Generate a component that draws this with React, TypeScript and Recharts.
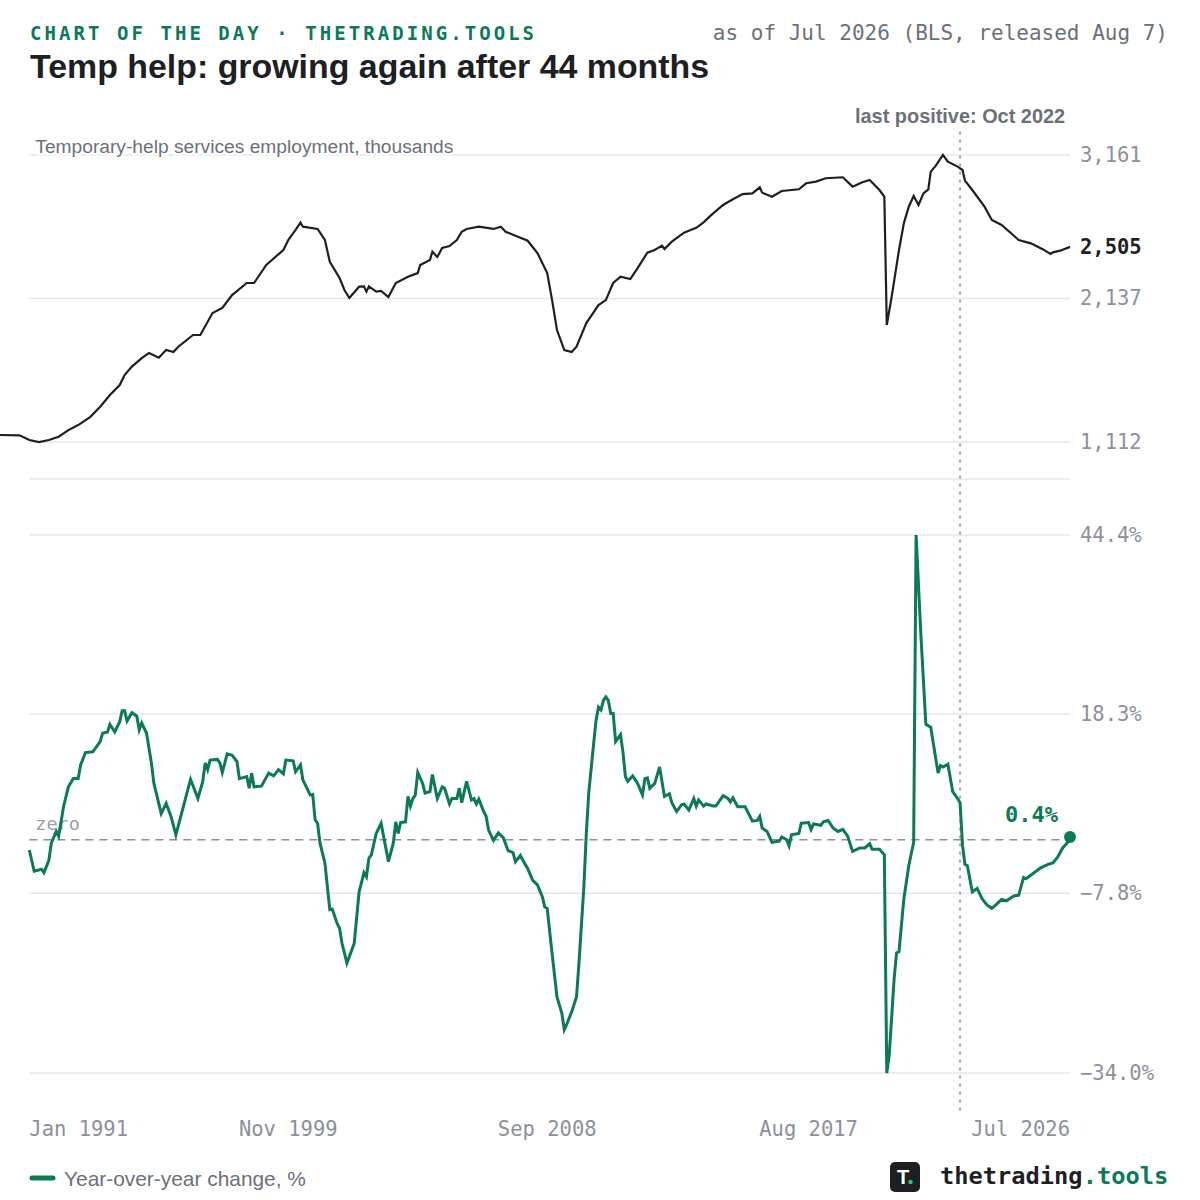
import React from 'react'
import { LineChart, Line, XAxis, YAxis, ReferenceLine, ReferenceDot } from 'recharts'

// Temporary-help services employment (thousands)
const levelMonths = [
  '1990-01', '1990-09', '1991-01', '1991-05', '1991-09', '1992-01', '1992-05', '1992-09', '1993-02', '1993-06', '1993-10',
  '1994-02', '1994-04', '1994-07', '1994-11', '1995-02', '1995-06', '1995-09', '1995-12', '1996-02', '1996-08', '1996-11',
  '1997-04', '1997-08', '1997-12', '1998-06', '1998-09', '1999-02', '1999-09', '1999-11', '2000-02', '2000-04', '2000-05',
  '2000-11', '2001-02', '2001-04', '2001-08', '2001-10', '2001-12', '2002-04', '2002-06', '2002-07', '2002-08', '2002-11',
  '2003-01', '2003-04', '2003-07', '2003-12', '2004-04', '2004-05', '2004-09', '2004-10', '2004-12', '2005-02', '2005-05',
  '2005-08', '2005-10', '2005-12', '2006-05', '2006-11', '2007-02', '2007-04', '2007-09', '2008-01', '2008-05', '2008-09',
  '2008-11', '2009-01', '2009-04', '2009-07', '2009-09', '2010-01', '2010-06', '2010-09', '2010-12', '2011-03', '2011-07',
  '2011-10', '2012-02', '2012-05', '2012-08', '2012-09', '2012-12', '2013-05', '2013-10', '2014-01', '2014-04', '2014-09',
  '2015-01', '2015-05', '2015-09', '2015-12', '2016-01', '2016-05', '2016-09', '2017-04', '2017-07', '2017-11', '2018-03',
  '2018-10', '2019-02', '2019-06', '2019-09', '2020-01', '2020-03', '2020-04', '2020-06', '2020-09', '2020-11', '2021-01',
  '2021-03', '2021-05', '2021-07', '2021-09', '2021-10', '2021-12', '2022-03', '2022-05', '2022-09', '2022-11', '2022-12',
  '2023-03', '2023-08', '2023-11', '2024-03', '2024-10', '2025-03', '2025-08', '2025-11', '2025-12', '2026-03', '2026-07',
]
const levelValues = [
  1162, 1160, 1126, 1112, 1126, 1150, 1197, 1233, 1292, 1364, 1447,
  1519, 1590, 1650, 1711, 1747, 1714, 1769, 1754, 1792, 1876, 1876,
  2033, 2069, 2161, 2247, 2247, 2376, 2483, 2554, 2626, 2678, 2649,
  2633, 2554, 2399, 2283, 2197, 2140, 2221, 2223, 2185, 2223, 2185,
  2190, 2147, 2247, 2292, 2318, 2376, 2411, 2471, 2433, 2497, 2511,
  2554, 2613, 2633, 2649, 2633, 2649, 2613, 2578, 2549, 2461, 2318,
  2125, 1911, 1768, 1754, 1792, 1961, 2090, 2125, 2247, 2292, 2275,
  2354, 2464, 2483, 2514, 2490, 2542, 2606, 2641, 2680, 2730, 2804,
  2845, 2882, 2887, 2930, 2892, 2863, 2904, 2916, 2959, 2971, 2995,
  3002, 2935, 2966, 2982, 2911, 2863, 1947, 2149, 2483, 2675, 2792,
  2868, 2804, 2887, 2916, 3042, 3083, 3161, 3113, 3078, 3054, 2978,
  2911, 2792, 2697, 2661, 2554, 2530, 2487, 2454, 2466, 2478, 2505,
]

// Year-over-year change, %
const yoyMonths = [
  '1991-01', '1991-03', '1991-06', '1991-07', '1991-09', '1991-10', '1991-12', '1992-01', '1992-03', '1992-05',
  '1992-07', '1992-09', '1992-10', '1992-12', '1993-03', '1993-06', '1993-07', '1993-09', '1993-10', '1993-12',
  '1994-02', '1994-03', '1994-04', '1994-05', '1994-07', '1994-09', '1994-10', '1994-11', '1995-01', '1995-03',
  '1995-04', '1995-07', '1995-09', '1995-11', '1996-01', '1996-03', '1996-07', '1996-10', '1996-12', '1997-01',
  '1997-02', '1997-03', '1997-06', '1997-07', '1997-08', '1997-10', '1997-12', '1998-02', '1998-03', '1998-06',
  '1998-07', '1998-08', '1998-09', '1998-12', '1999-03', '1999-05', '1999-07', '1999-09', '1999-10', '2000-01',
  '2000-02', '2000-04', '2000-05', '2000-08', '2000-09', '2000-10', '2000-11', '2000-12', '2001-02', '2001-04',
  '2001-05', '2001-07', '2001-08', '2001-09', '2001-11', '2002-02', '2002-04', '2002-06', '2002-07', '2002-08',
  '2002-09', '2002-11', '2003-01', '2003-04', '2003-06', '2003-07', '2003-08', '2003-09', '2003-11', '2003-12',
  '2004-01', '2004-02', '2004-03', '2004-04', '2004-06', '2004-07', '2004-09', '2004-10', '2004-12', '2005-02',
  '2005-03', '2005-05', '2005-06', '2005-08', '2005-09', '2005-10', '2005-12', '2006-02', '2006-03', '2006-04',
  '2006-05', '2006-07', '2006-08', '2006-09', '2006-11', '2007-01', '2007-03', '2007-05', '2007-07', '2007-08',
  '2007-10', '2007-12', '2008-01', '2008-03', '2008-05', '2008-07', '2008-08', '2008-09', '2008-11', '2009-01',
  '2009-03', '2009-04', '2009-05', '2009-07', '2009-09', '2009-10', '2009-12', '2010-01', '2010-02', '2010-04',
  '2010-05', '2010-06', '2010-07', '2010-08', '2010-09', '2010-10', '2010-11', '2010-12', '2011-01', '2011-03',
  '2011-04', '2011-05', '2011-06', '2011-08', '2011-10', '2011-12', '2012-01', '2012-02', '2012-03', '2012-05',
  '2012-07', '2012-09', '2012-11', '2012-12', '2013-02', '2013-04', '2013-05', '2013-07', '2013-09', '2013-10',
  '2013-11', '2014-01', '2014-02', '2014-05', '2014-06', '2014-09', '2014-11', '2014-12', '2015-01', '2015-03',
  '2015-06', '2015-07', '2015-09', '2015-11', '2015-12', '2016-01', '2016-03', '2016-05', '2016-08', '2016-09',
  '2016-11', '2016-12', '2017-01', '2017-04', '2017-05', '2017-08', '2017-09', '2017-10', '2018-01', '2018-02',
  '2018-04', '2018-06', '2018-08', '2018-10', '2018-12', '2019-02', '2019-05', '2019-07', '2019-09', '2019-10',
  '2020-01', '2020-03', '2020-04', '2020-05', '2020-07', '2020-08', '2020-09', '2020-11', '2021-01', '2021-03',
  '2021-04', '2021-06', '2021-08', '2021-10', '2022-01', '2022-02', '2022-03', '2022-05', '2022-07', '2022-09',
  '2022-10', '2022-11', '2022-12', '2023-01', '2023-03', '2023-05', '2023-07', '2023-09', '2023-11', '2024-01',
  '2024-03', '2024-05', '2024-08', '2024-10', '2024-12', '2025-01', '2025-04', '2025-07', '2025-10', '2025-12',
  '2026-02', '2026-04', '2026-06', '2026-07',
]
const yoyValues = [
  -1.5, -4.6, -4.3, -4.8, -3.0, -0.5, 1.2, 0.5, 4.8, 7.7,
  8.9, 8.9, 10.9, 12.7, 12.8, 14.3, 15.5, 15.7, 16.8, 15.7,
  17.2, 18.8, 18.8, 17.3, 18.5, 18.0, 16.0, 17.0, 15.5, 11.1,
  8.2, 3.8, 5.3, 3.4, 0.7, 3.4, 8.8, 6.0, 8.5, 11.2,
  10.2, 11.6, 11.7, 11.2, 9.8, 12.5, 12.3, 11.4, 8.9, 9.2,
  7.5, 9.7, 7.7, 7.8, 9.7, 9.3, 10.2, 9.6, 11.6, 11.5,
  9.9, 10.9, 8.7, 6.5, 6.6, 2.9, 2.4, -0.5, -3.4, -10.2,
  -10.1, -12.2, -12.9, -15.1, -18.0, -15.1, -7.6, -4.8, -5.4, -2.7,
  -2.2, 0.9, 2.4, -3.2, -0.5, 2.6, 0.9, 2.5, 2.6, 6.3,
  4.9, 6.0, 6.5, 9.8, 8.2, 6.8, 7.0, 9.5, 6.0, 7.7,
  7.5, 5.2, 6.0, 6.0, 7.5, 5.4, 8.5, 5.8, 6.0, 5.2,
  5.9, 4.1, 3.4, 1.4, -0.1, 1.0, 0.3, -1.6, -1.9, -3.2,
  -2.3, -3.6, -4.2, -5.9, -6.6, -8.3, -9.8, -10.0, -16.6, -22.9,
  -25.3, -27.7, -26.9, -25.1, -22.9, -18.0, -6.9, 0.9, 6.8, 14.0,
  17.4, 19.3, 18.9, 20.3, 20.8, 20.3, 18.4, 18.4, 14.3, 15.3,
  12.8, 9.2, 8.5, 9.3, 8.2, 6.5, 8.9, 9.0, 7.5, 8.2,
  10.6, 6.3, 6.7, 5.4, 4.1, 5.1, 5.2, 4.3, 6.0, 4.9,
  5.8, 4.9, 5.2, 4.9, 4.9, 6.4, 6.0, 5.5, 6.1, 4.8,
  4.8, 4.1, 2.7, 2.8, 3.4, 1.7, 1.2, -0.4, -0.2, 0.4,
  0.0, -0.9, 0.7, 0.9, 2.4, 2.5, 1.5, 2.3, 2.1, 2.6,
  2.8, 1.7, 1.2, 1.5, 0.5, -1.7, -1.2, -1.2, -0.6, -1.4,
  -1.4, -2.2, -34.0, -31.4, -20.3, -16.5, -16.3, -8.6, -3.8, -0.4,
  44.4, 29.6, 16.8, 16.4, 9.7, 10.8, 10.6, 11.0, 7.0, 6.0,
  5.4, -0.8, -3.6, -3.8, -7.6, -7.1, -8.6, -9.5, -10.0, -9.4,
  -8.7, -8.9, -8.2, -8.1, -5.5, -5.7, -4.9, -4.1, -3.6, -3.4,
  -2.5, -1.2, -0.4, 0.4,
]

const levelTicks = [1112, 2137, 2505, 3161]
const levelGrid = [1112, 2137, 3161]
const yoyTicks = [-34.0, -7.8, 18.3, 44.4]
const xTickMonths = ['1991-01', '1999-11', '2008-09', '2017-08', '2026-07']
const xTickLabels = ['Jan 1991', 'Nov 1999', 'Sep 2008', 'Aug 2017', 'Jul 2026']
const lastPositiveMonth = '2022-10'

const MONO = '"DejaVu Sans Mono", monospace'
const SANS = '"Liberation Sans", Arial, sans-serif'
const GREEN = '#0b7a56'
const INK = '#1d1f23'
const MUTED = '#8b909a'
const LABEL = '#6b7079'
const GRID = '#e5e6ea'

const monthIndex = (s: string) => {
  const [y, m] = s.split('-').map(Number)
  return (y - 1990) * 12 + (m - 1)
}

const levelData = levelMonths.map((m, i) => ({ t: monthIndex(m), v: levelValues[i] }))
const yoyData = yoyMonths.map((m, i) => ({ t: monthIndex(m), v: yoyValues[i] }))
const xDomain = [monthIndex(levelMonths[0]), monthIndex(levelMonths[levelMonths.length - 1])]
const gridStart = monthIndex(yoyMonths[0])
const gridEnd = xDomain[1]
const xTicks = xTickMonths.map(monthIndex)
const lastLevel = levelValues[levelValues.length - 1]
const lastYoy = yoyValues[yoyValues.length - 1]

// padded y ranges so both panels line up with their gridlines
const levelDomain = [848, 3425]
const yoyDomain = [yoyTicks[0], yoyTicks[yoyTicks.length - 1]]

const fmtPct = (v: number) => `${v < 0 ? '−' : ''}${Math.abs(v).toFixed(1)}%`

const LevelTick = (props: any) => {
  const { x, y, payload } = props
  const current = payload.value === lastLevel
  return (
    <text x={x} y={y} dy={7} textAnchor="start" fontFamily={MONO} fontSize={20.5}
      fontWeight={current ? 700 : 400} fill={current ? INK : MUTED}>
      {payload.value.toLocaleString('en-US')}
    </text>
  )
}

const YoyTick = (props: any) => {
  const { x, y, payload } = props
  return (
    <text x={x} y={y} dy={7} textAnchor="start" fontFamily={MONO} fontSize={20.5} fill={MUTED}>
      {fmtPct(payload.value)}
    </text>
  )
}

const MonthTick = (props: any) => {
  const { x, y, payload } = props
  const i = xTicks.indexOf(payload.value)
  const anchor = i === 0 ? 'start' : i === xTicks.length - 1 ? 'end' : 'middle'
  return (
    <text x={x} y={y} dy={63} textAnchor={anchor} fontFamily={MONO} fontSize={20.5} fill={MUTED}>
      {xTickLabels[i]}
    </text>
  )
}

export default function App() {
  const lastPosT = monthIndex(lastPositiveMonth)
  return (
    <div style={{ position: 'absolute', left: 0, top: 0, width: 1200, height: 1200, background: '#fff', overflow: 'hidden' }}>
      {/* upper panel: level */}
      <div style={{ position: 'absolute', left: 0, top: 0 }}>
        <LineChart width={1200} height={480} data={levelData} margin={{ top: 118, right: 0, bottom: 1, left: 0 }}>
          <XAxis type="number" dataKey="t" domain={xDomain} hide />
          <YAxis orientation="right" width={130} domain={levelDomain} ticks={levelTicks} interval={0}
            axisLine={false} tickLine={false} tickSize={0} tickMargin={10} tick={LevelTick} />
          <ReferenceLine segment={[{ x: gridStart, y: levelDomain[0] }, { x: gridEnd, y: levelDomain[0] }]}
            stroke={GRID} strokeWidth={1.5} ifOverflow="visible" />
          {levelGrid.map((g, i) => (
            <ReferenceLine key={g} segment={[{ x: gridStart, y: g }, { x: gridEnd, y: g }]}
              stroke={GRID} strokeWidth={1.5} ifOverflow="visible"
              label={i === levelGrid.length - 1 ? ({ viewBox }: any) => (
                <text x={viewBox.x + 6} y={viewBox.y - 2} fontFamily={SANS} fontSize={19.2} fill={LABEL}
                  stroke="#fff" strokeWidth={5} strokeLinejoin="round" style={{ paintOrder: 'stroke' }}>
                  Temporary-help services employment, thousands
                </text>
              ) : undefined}
            />
          ))}
          <Line type="linear" dataKey="v" stroke={INK} strokeWidth={2.2} dot={false} isAnimationActive={false} />
        </LineChart>
      </div>

      {/* lower panel: year-over-year */}
      <div style={{ position: 'absolute', left: 0, top: 0 }}>
        <LineChart width={1200} height={1200} data={yoyData} margin={{ top: 535, right: 0, bottom: 0, left: 0 }}>
          <XAxis type="number" dataKey="t" domain={xDomain} ticks={xTicks} interval={0} height={127}
            axisLine={false} tickLine={false} tickSize={0} tickMargin={0} tick={MonthTick} />
          <YAxis orientation="right" width={130} domain={yoyDomain} ticks={yoyTicks} interval={0}
            axisLine={false} tickLine={false} tickSize={0} tickMargin={10} tick={YoyTick} />
          {yoyTicks.map(g => (
            <ReferenceLine key={g} segment={[{ x: gridStart, y: g }, { x: gridEnd, y: g }]}
              stroke={GRID} strokeWidth={1.5} ifOverflow="visible" />
          ))}
          <ReferenceLine segment={[{ x: gridStart, y: 0 }, { x: gridEnd, y: 0 }]}
            stroke="#8b8f98" strokeWidth={1.5} strokeDasharray="8 6" ifOverflow="visible"
            label={({ viewBox }: any) => (
              <text x={viewBox.x + 6} y={viewBox.y - 10} fontFamily={MONO} fontSize={18.5} fill="#9a9fa8">zero</text>
            )} />
          <ReferenceLine segment={[{ x: lastPosT, y: 103.2 }, { x: lastPosT, y: -40.1 }]}
            stroke="#a3a8b0" strokeWidth={2} strokeDasharray="3 5" ifOverflow="visible"
            label={({ viewBox }: any) => (
              <text x={viewBox.x} y={viewBox.y - 9} textAnchor="middle" fontFamily={SANS} fontSize={19.9}
                fontWeight={700} fill={LABEL}>
                last positive: Oct 2022
              </text>
            )} />
          <Line type="linear" dataKey="v" stroke={GREEN} strokeWidth={3} dot={false} isAnimationActive={false} />
          <ReferenceDot x={gridEnd} y={lastYoy} r={6} fill={GREEN} stroke="none" ifOverflow="visible"
            label={({ viewBox }: any) => (
              <text x={viewBox.x - 6} y={viewBox.y - 9} textAnchor="end" fontFamily={MONO} fontSize={22}
                fontWeight={700} fill={GREEN}>
                {fmtPct(lastYoy)}
              </text>
            )} />
        </LineChart>
      </div>

      {/* header, legend and brand */}
      <svg width={1200} height={1200} style={{ position: 'absolute', left: 0, top: 0, pointerEvents: 'none' }}>
        <text x={30} y={39.5} fontFamily={MONO} fontSize={19} fontWeight={700} fill={GREEN} style={{ letterSpacing: '3.05px' }}>
          CHART OF THE DAY · THETRADING.TOOLS
        </text>
        <text x={1168} y={39.5} textAnchor="end" fontFamily={MONO} fontSize={21} fill={LABEL}>
          as of Jul 2026 (BLS, released Aug 7)
        </text>
        <text x={30} y={78} fontFamily={SANS} fontSize={33.9} fontWeight={700} fill={INK}>
          Temp help: growing again after 44 months
        </text>

        <line x1={32} y1={1178} x2={53} y2={1178} stroke={GREEN} strokeWidth={5} strokeLinecap="round" />
        <text x={64} y={1186} fontFamily={SANS} fontSize={20.9} fill={LABEL}>Year-over-year change, %</text>

        <rect x={890} y={1162} width={30} height={30} rx={5} fill={INK} />
        <text x={903} y={1184} textAnchor="middle" fontFamily={SANS} fontSize={20} fontWeight={700} fill="#fff">T</text>
        <circle cx={910.5} cy={1182} r={2.3} fill="#19c37d" />
        <text x={940} y={1184} fontFamily={MONO} fontSize={23.7} fontWeight={700} fill={INK}>
          thetrading<tspan fill={GREEN}>.tools</tspan>
        </text>
      </svg>
    </div>
  )
}
